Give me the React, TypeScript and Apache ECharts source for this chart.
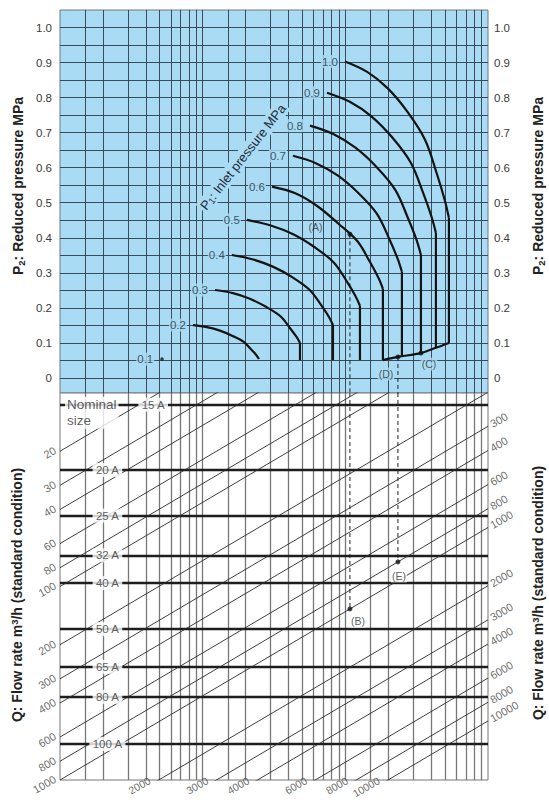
import React, { useEffect, useRef } from 'react';
import * as echarts from 'echarts';

// ---------------- data ----------------
const p2TickValues = [0, 0.1, 0.2, 0.3, 0.4, 0.5, 0.6, 0.7, 0.8, 0.9, 1.0];
const gridMantissas = [1, 1.5, 2, 3, 4, 5, 6, 7, 8, 9];
const gridDecades = [1, 10, 100];

const inletLabels = ['1.0', '0.9', '0.8', '0.7', '0.6', '0.5', '0.4', '0.3', '0.2'];
const arc10 = [[99.4, 0.903], [141.3, 0.874], [197.6, 0.827], [272, 0.76], [361.8, 0.68], [438.5, 0.582], [497.3, 0.508], [532.1, 0.457]];
const arc09 = [[74.3, 0.814], [107.5, 0.788], [152.9, 0.746], [213.5, 0.686], [287.7, 0.614], [352.6, 0.526], [401.9, 0.46], [431.5, 0.414]];
const arc08 = [[56.5, 0.72], [82.3, 0.696], [117.7, 0.657], [165.4, 0.602], [224.4, 0.536], [275.5, 0.455], [315.5, 0.394], [338.8, 0.351]];
const arc07 = [[42.9, 0.634], [62.1, 0.613], [88.3, 0.578], [123.3, 0.528], [166.2, 0.469], [203.7, 0.396], [232.2, 0.341], [249.2, 0.303]];
const arc06 = [[30.6, 0.546], [44.6, 0.527], [63.8, 0.49], [89.6, 0.44], [121.6, 0.39], [149.2, 0.33], [170.9, 0.285], [183.4, 0.254]];
const arc05 = [[20.4, 0.451], [30, 0.435], [43.1, 0.41], [61, 0.373], [83.2, 0.329], [102.6, 0.275], [117.7, 0.234], [126.6, 0.206]];
const arc04 = [[16, 0.351], [22.6, 0.338], [31.3, 0.317], [42.7, 0.287], [56.3, 0.251], [67.9, 0.207], [76.8, 0.174], [81.9, 0.151]];
const arc03 = [[12.2, 0.251], [16.3, 0.242], [21.4, 0.226], [27.8, 0.203], [35.1, 0.176], [41, 0.142], [45.5, 0.117], [48.1, 0.1]];
const arc02 = [[8.55, 0.151], [10.7, 0.145], [13.2, 0.135], [16.2, 0.12], [19.4, 0.103], [21.9, 0.081], [23.8, 0.065], [24.8, 0.054]];
const arcs = [arc10, arc09, arc08, arc07, arc06, arc05, arc04, arc03, arc02];
const dropBottoms = [0.1, 0.086, 0.071, 0.06, 0.051, 0.051, 0.051, 0.051, null];
const chokeLimit = [[183.4, 0.051], [233.7, 0.06], [338.8, 0.071], [431.5, 0.086], [532.1, 0.1]];
const inlet01Point = [5.19, 0.054];

const nominalSizes = ['15 A', '20 A', '25 A', '32 A', '40 A', '50 A', '65 A', '80 A', '100 A'];
const nominalRows = [11.5, 25, 43, 69, 96, 166, 260, 372, 651];

const flowLines = [20, 30, 40, 60, 80, 100, 200, 300, 400, 600, 800, 1000, 2000, 3000, 4000, 6000, 8000, 10000];
const flowLabelsLeft = [20, 30, 40, 60, 80, 100, 200, 300, 400, 600, 800, 1000];
const flowLabelsRight = [300, 400, 600, 800, 1000, 2000, 3000, 4000, 6000, 8000, 10000];
const flowLabelsBottom = [2000, 3000, 4000, 6000, 8000, 10000];
const flowExponent = 0.435;

const pointA = { x: 107.7, p2: 0.41 };
const pointB = { x: 107.7, q: 1000 };
const pointC = { x: 338.8, p2: 0.071 };
const pointD = { x: 233.7, p2: 0.06 };
const pointE = { x: 233.7, q: 800 };

// ---------------- styles ----------------
const BLUE = '#a9dcf4';
const FONT = '"Liberation Sans", Arial, Helvetica, sans-serif';
const TOP_GRID_LINE = '#2e3b49';
const CURVE = '#141414';

const kAt = (x: number, q: number) => q / Math.pow(x, flowExponent);

function buildOption() {
  const xGridValues: number[] = [];
  gridDecades.forEach((d) => gridMantissas.forEach((m) => { if (m * d > 1) xGridValues.push(m * d); }));
  const p2GridValues = Array.from({ length: 21 }, (_, i) => +(i * 0.05).toFixed(2));

  const series: any[] = [];
  const top = { xAxisIndex: 0, yAxisIndex: 0 };
  const bot = { xAxisIndex: 1, yAxisIndex: 2 };

  // top grid lines
  series.push({
    type: 'scatter', ...top, data: [[1, 0]], symbolSize: 0, silent: true, z: 1,
    markLine: {
      silent: true, symbol: ['none', 'none'], z: 1, animation: false,
      label: { show: false },
      lineStyle: { color: TOP_GRID_LINE, width: 1, type: 'solid', opacity: 0.9 },
      data: [...xGridValues.map((v) => ({ xAxis: v })), ...p2GridValues.map((v) => ({ yAxis: v }))],
    },
  });

  // P1 curves
  arcs.forEach((arc, i) => {
    series.push({
      type: 'line', ...top, data: arc, smooth: 0.35, symbol: 'none', showSymbol: false, silent: true, z: 4,
      lineStyle: { color: CURVE, width: 2.2 },
    });
    const b = dropBottoms[i];
    if (b != null) {
      const last = arc[arc.length - 1];
      series.push({
        type: 'line', ...top, data: [last, [last[0], b]], symbol: 'none', showSymbol: false, silent: true, z: 4,
        lineStyle: { color: CURVE, width: 2.2 },
      });
    }
  });
  series.push({
    type: 'line', ...top, data: chokeLimit, smooth: 0.3, symbol: 'none', showSymbol: false, silent: true, z: 4,
    lineStyle: { color: CURVE, width: 2.2 },
  });

  const curveLabel = {
    show: true, position: 'left', distance: 6, formatter: '{b}', backgroundColor: BLUE,
    padding: [1, 1, 0, 1], color: '#1f2d3b', fontSize: 11.5, fontFamily: FONT,
  };
  series.push({
    type: 'scatter', ...top, symbolSize: 0, silent: true, z: 6,
    data: arcs.map((a, i) => ({ value: a[0], name: inletLabels[i] })),
    label: curveLabel,
  });
  series.push({
    type: 'scatter', ...top, symbolSize: 3.5, silent: true, z: 6, itemStyle: { color: '#111' },
    data: [{ value: inlet01Point, name: '0.1' }],
    label: curveLabel,
  });

  // dashed leaders (top)
  [pointA, pointD].forEach((p) => {
    series.push({
      type: 'line', ...top, data: [[p.x, p.p2], [p.x, -0.06]], symbol: 'none', silent: true, z: 3,
      lineStyle: { color: '#222', width: 1, type: [4, 3] },
    });
  });
  const ptLabel = { show: true, formatter: '{b}', fontSize: 10.5, color: '#333', fontFamily: FONT, padding: [1, 1] };
  series.push({
    type: 'scatter', ...top, symbolSize: 5, silent: true, z: 7, itemStyle: { color: '#111' },
    data: [
      { value: [pointA.x, pointA.p2], name: '(A)', label: { ...ptLabel, position: 'left', distance: 24, offset: [0, -7] } },
      { value: [pointC.x, pointC.p2], name: '(C)', label: { ...ptLabel, position: 'bottom', distance: 2, offset: [8, 0], backgroundColor: BLUE } },
      { value: [pointD.x, pointD.p2], name: '(D)', label: { ...ptLabel, position: 'bottom', distance: 8, offset: [-12, 0], backgroundColor: BLUE } },
    ],
  });

  // bottom grid lines
  series.push({
    type: 'scatter', ...bot, data: [[1, 10]], symbolSize: 0, silent: true, z: 1,
    markLine: {
      silent: true, symbol: ['none', 'none'], z: 1, animation: false,
      label: { show: false },
      lineStyle: { color: '#777', width: 1.3, type: 'solid' },
      data: [
        ...xGridValues.map((v) => ({ xAxis: v })),
        ...nominalRows.map((k) => ({ yAxis: k, lineStyle: { color: '#1e1e1e', width: 2.3, type: 'solid' } })),
      ],
    },
  });

  // flow-rate lines
  flowLines.forEach((q) => {
    series.push({
      type: 'line', ...bot, data: [[1, q], [1000, kAt(1000, q)]], symbol: 'none', silent: true, z: 3, clip: true,
      lineStyle: { color: '#2a2a2a', width: 0.9 },
    });
  });
  const qLabel = { show: true, formatter: '{b}', rotate: 30, fontSize: 11, color: '#444', fontFamily: FONT };
  series.push({
    type: 'scatter', ...bot, symbolSize: 0, silent: true, z: 6,
    data: flowLabelsLeft.map((q) => ({ value: [1, q], name: String(q) })),
    label: { ...qLabel, position: 'left', distance: 4, offset: [0, -2] },
  });
  series.push({
    type: 'scatter', ...bot, symbolSize: 0, silent: true, z: 6,
    data: flowLabelsRight.map((q) => ({ value: [1000, kAt(1000, q)], name: String(q) })),
    label: { ...qLabel, position: 'right', distance: 4, offset: [0, -2] },
  });
  series.push({
    type: 'scatter', ...bot, symbolSize: 0, silent: true, z: 6,
    data: flowLabelsBottom.map((q) => ({ value: [Math.pow(q / 1000, 1 / flowExponent), 1000], name: String(q) })),
    label: { ...qLabel, fontSize: 10.5, position: 'left', distance: 9, offset: [0, 0] },
  });

  // nominal size labels
  series.push({
    type: 'scatter', ...bot, symbolSize: 0, silent: true, z: 6,
    data: nominalSizes.map((n, i) => ({ value: [i === 0 ? 4.5 : 2.15, nominalRows[i]], name: n })),
    label: { show: true, position: 'inside', formatter: '{b}', backgroundColor: '#fff', padding: [1, 3], fontSize: 11.5, color: '#333', fontFamily: FONT },
  });
  series.push({
    type: 'scatter', ...bot, symbolSize: 0, silent: true, z: 6,
    data: [{ value: [1, nominalRows[0]], name: 'Nominal\nsize' }],
    label: {
      show: true, position: 'right', distance: 5, offset: [0, 8], formatter: '{b}', align: 'left',
      backgroundColor: '#fff', padding: [0, 2], fontSize: 13.5, lineHeight: 16, color: '#333', fontFamily: FONT,
    },
  });

  // dashed leaders (bottom) and points B, E
  [[pointA.x, pointB.q], [pointD.x, pointE.q]].forEach(([x, q]) => {
    series.push({
      type: 'line', ...bot, data: [[x, 10], [x, kAt(x, q)]], symbol: 'none', silent: true, z: 3,
      lineStyle: { color: '#222', width: 1, type: [4, 3] },
    });
  });
  series.push({
    type: 'scatter', ...bot, symbolSize: 5, silent: true, z: 7, itemStyle: { color: '#111' },
    data: [
      { value: [pointB.x, kAt(pointB.x, pointB.q)], name: '(B)', label: { ...ptLabel, position: 'bottom', distance: 3, offset: [8, 0], backgroundColor: '#fff' } },
      { value: [pointE.x, kAt(pointE.x, pointE.q)], name: '(E)', label: { ...ptLabel, position: 'bottom', distance: 5, offset: [1, 0], backgroundColor: '#fff' } },
    ],
  });

  const hiddenAxis = { axisLine: { show: false }, axisTick: { show: false }, splitLine: { show: false } };
  const p2Label = {
    customValues: p2TickValues,
    formatter: (v: number) => (v === 0 ? '0' : v.toFixed(1)),
    fontSize: 11.5, color: '#3a3a3a', fontFamily: FONT,
  };

  const sub = { fontSize: 9.5, fontWeight: 'bold', verticalAlign: 'bottom', padding: [6, 0, 0, 0], fontFamily: FONT, fill: '#222' };
  const sup = { fontSize: 9.5, fontWeight: 'bold', verticalAlign: 'top', padding: [0, 0, 6, 0], fontFamily: FONT, fill: '#222' };
  const titleStyle = (text: string) => ({
    text, fontSize: 14, fontWeight: 'bold', fontFamily: FONT, fill: '#222', align: 'center', verticalAlign: 'middle',
    rich: { s: sub, u: sup },
  });

  return {
    animation: false,
    grid: [
      { left: 60, top: 10, width: 428, height: 383, show: true, backgroundColor: BLUE, borderColor: '#6d7884', borderWidth: 1 },
      { left: 60, top: 393, width: 428, height: 387, show: true, backgroundColor: '#fff', borderColor: '#777', borderWidth: 1 },
    ],
    xAxis: [0, 1].map((i) => ({
      type: 'log', logBase: 10, min: 1, max: 1000, gridIndex: i, ...hiddenAxis, axisLabel: { show: false },
    })),
    yAxis: [
      { type: 'value', gridIndex: 0, min: -0.0429, max: 1.05, ...hiddenAxis, axisLabel: { ...p2Label, margin: 8 } },
      { type: 'value', gridIndex: 0, position: 'right', min: -0.0429, max: 1.05, ...hiddenAxis, axisLabel: { ...p2Label, margin: 6 } },
      { type: 'log', logBase: 10, gridIndex: 1, min: 10, max: 1000, inverse: true, ...hiddenAxis, axisLabel: { show: false } },
    ],
    series,
    graphic: [
      { type: 'text', x: 18, y: 186, rotation: Math.PI / 2, silent: true, style: titleStyle('P{s|2}: Reduced pressure MPa') },
      { type: 'text', x: 538, y: 186, rotation: Math.PI / 2, silent: true, style: titleStyle('P{s|2}: Reduced pressure MPa') },
      { type: 'text', x: 17, y: 595, rotation: Math.PI / 2, silent: true, style: titleStyle('Q: Flow rate m{u|3}/h (standard condition)') },
      { type: 'text', x: 538, y: 593, rotation: Math.PI / 2, silent: true, style: titleStyle('Q: Flow rate m{u|3}/h (standard condition)') },
      {
        type: 'text', x: 243, y: 157, rotation: (52 * Math.PI) / 180, silent: true, z: 10,
        style: {
          text: 'P{s|1}: Inlet pressure MPa', fontSize: 13, fontFamily: FONT, fill: '#1f2d3b', align: 'center', verticalAlign: 'middle',
          backgroundColor: BLUE, padding: [1, 2],
          rich: { s: { fontSize: 9, verticalAlign: 'bottom', padding: [5, 0, 0, 0], fontFamily: FONT, fill: '#1f2d3b' } },
        },
      },
    ],
  };
}

export default function App() {
  const ref = useRef<HTMLDivElement>(null);
  useEffect(() => {
    document.body.style.margin = '0';
    if (!ref.current) return;
    const chart = echarts.init(ref.current, undefined, { renderer: 'svg' });
    chart.setOption(buildOption() as any);
    return () => chart.dispose();
  }, []);
  return <div ref={ref} style={{ width: 549, height: 800, background: '#fff' }} />;
}
